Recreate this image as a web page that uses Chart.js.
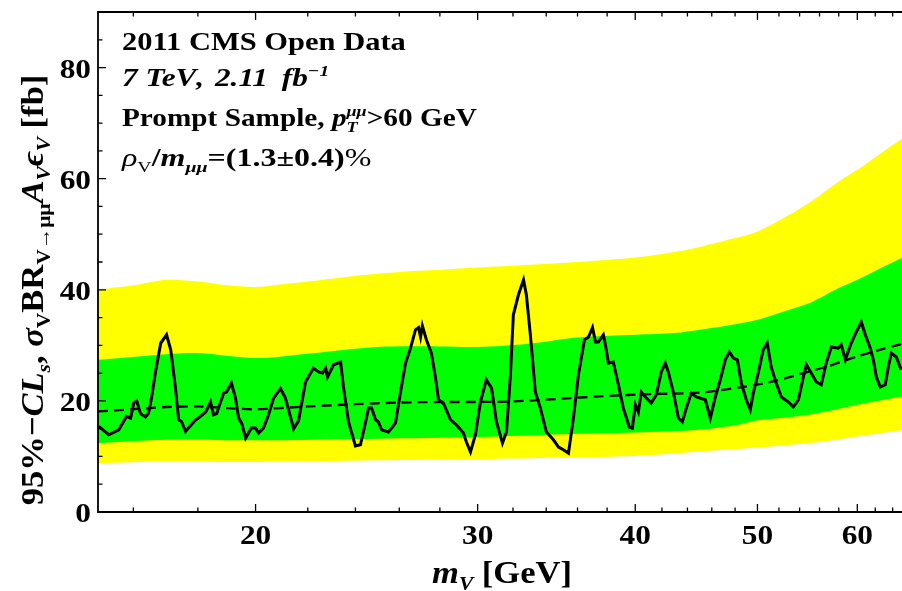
<!DOCTYPE html>
<html>
<head>
<meta charset="utf-8">
<script src="https://cdn.jsdelivr.net/npm/chart.js@4.4.1/dist/chart.umd.min.js"></script>
<style>
  html, body { margin:0; padding:0; background:#fff; }
  #wrap { width:902px; height:591px; }
</style>
</head>
<body>
<div id="wrap"><canvas id="chart"></canvas></div>
<script>
// ====== data ======
// observed 95% CLs limit
const obsMass = [15.02,15.30,15.58,15.80,15.92,16.01,16.10,16.21,16.36,16.45,16.54,16.66,16.82,17.00,17.13,17.28,17.38,17.47,17.60,17.93,
  18.02,18.26,18.42,18.52,18.63,18.69,18.87,18.97,19.14,19.28,19.39,19.50,19.64,19.85,20.00,20.11,20.29,20.48,20.67,20.93,
  21.12,21.44,21.63,21.91,22.23,22.44,22.60,22.73,22.81,23.06,23.36,23.48,23.70,24.00,24.22,24.45,24.58,24.72,24.90,25.03,
  25.17,25.49,25.82,26.06,26.30,26.54,26.78,26.93,27.03,27.12,27.32,27.57,27.78,27.93,28.18,28.55,28.86,29.23,29.39,29.61,
  29.88,30.15,30.48,30.77,31.05,31.39,31.62,31.85,32.02,32.32,32.62,32.79,33.03,33.33,33.64,34.01,34.45,34.77,35.08,35.41,
  35.73,36.06,36.46,36.73,37.00,37.20,37.40,37.74,37.88,38.09,38.43,38.79,39.14,39.57,39.79,40.01,40.23,40.45,40.75,41.19,
  41.57,41.95,42.26,42.49,42.88,43.28,43.59,43.91,44.31,44.72,45.46,45.88,46.30,46.72,47.15,47.50,47.85,48.20,48.55,48.99,
  49.35,49.62,50.07,50.53,50.90,51.27,51.74,52.23,52.90,53.38,53.88,54.37,54.67,55.16,55.67,56.18,56.69,57.22,57.95,58.27,
  58.70,59.34,59.89,60.44,60.88,61.44,61.78,62.12,62.57,63.14,63.49,63.84,64.43,65.0];
const obsLimit = [15.4,13.9,14.8,17.2,16.9,19.6,20.0,17.7,17.1,17.8,20.5,25.2,30.4,31.9,29.2,22.3,16.6,16.3,14.5,16.6,
  16.9,18.0,19.8,17.5,17.7,18.7,21.4,21.6,23.2,20.5,16.9,16.0,13.3,15.1,15.1,14.2,15.1,17.5,20.5,22.2,
  20.5,15.0,16.4,23.4,25.9,25.2,25.0,25.9,24.3,26.5,27.0,22.5,16.2,11.9,12.1,16.2,18.7,18.7,16.6,16.2,
  14.8,14.4,16.0,21.6,26.8,29.5,32.8,33.2,31.5,33.5,31.0,28.6,24.1,20.2,19.6,16.6,15.7,14.2,12.6,10.8,
  13.9,19.8,23.8,22.3,16.2,12.4,14.4,24.7,35.5,39.1,41.8,39.1,31.9,21.6,18.7,14.4,13.0,11.7,11.2,10.6,
  16.9,24.7,31.0,31.5,33.2,30.6,30.6,31.9,30.1,26.8,27.0,22.9,18.7,15.3,15.1,19.3,18.0,21.6,20.7,19.6,
  21.1,25.2,26.8,25.2,21.6,16.9,16.2,18.7,21.4,20.7,20.2,16.9,20.7,23.8,27.4,28.8,27.7,27.4,23.2,20.2,
  18.4,21.4,25.0,29.2,30.4,26.1,23.2,20.7,19.8,18.9,20.2,24.3,26.5,25.0,23.4,22.9,26.8,29.7,29.5,30.1,
  27.4,30.4,32.4,34.2,31.9,29.5,27.4,24.3,22.5,22.9,26.1,28.6,27.9,25.6];

// expected (median)
const expMass  = [15,16,17,18,19,20,22,24,26,28,30,32,35,38,41,45,48,51,54,57,60,63,65.2];
const expLimit = [18.1,18.5,18.9,19.0,18.7,18.5,19.0,19.4,19.7,19.8,19.8,19.9,20.4,20.9,21.2,21.5,22.3,23.3,24.8,26.3,28.0,29.4,30.3];

// ±2 sigma band (yellow)
const up2Mass = [15,16,17,18,19,20,21,22,24,26,28,30,33,36,40,43,45,48,50,53,55,58,60,63,65.2];
const up2     = [40.0,40.8,41.8,41.5,40.8,40.5,41.0,41.5,42.5,43.2,43.6,44.0,44.5,45.0,45.8,46.8,47.7,49.3,50.5,53.5,55.7,59.5,61.6,65.0,67.3];
const dn2Mass = [15,17,20,25,30,35,40,45,50,55,60,65.2];
const dn2     = [8.8,9.1,9.0,9.3,9.5,9.8,10.1,10.9,11.6,12.4,13.6,14.8];

// ±1 sigma band (green)
const up1Mass = [15,17,18,20,22,25,28,30,33,36,40,43,45,48,50,53,55,58,60,63,65.2];
const up1     = [27.4,28.4,28.6,27.7,28.5,29.7,29.8,29.7,30.3,31.4,31.9,32.2,32.8,33.8,34.6,36.4,37.6,40.3,41.8,44.2,45.8];
const dn1Mass = [15,17,20,25,30,35,40,45,48,50,54,57,60,63,65.2];
const dn1     = [12.4,13.0,12.9,13.2,13.5,14.0,14.3,14.8,15.6,16.5,17.3,18.2,19.3,20.2,20.8];

// ticks
const xMajor = [20,30,40,50,60];
const xMinor = [16,18,22,24,26,28,32,34,36,38,42,44,46,48,52,54,56,58,62,64];
const yMajor = [0,20,40,60,80];
const yMinor = [5,10,15,25,30,35,45,50,55,65,70,75,85];

const pts = (xs, ys) => xs.map((x,i) => ({x, y:ys[i]}));

// ====== text helper (sub/superscripts, stretched like the original) ======
const FONT = '"Liberation Serif","Times New Roman",serif';
function fontOf(s, size){
  const fs = size * (s.sc || 1);
  return `${s.i ? 'italic ' : ''}${s.n ? '' : 'bold '}${fs}px ${FONT}`;
}
function richWidth(ctx, segs, size, sx){
  let w = 0, keep = 0;
  for(const s of segs){
    ctx.font = fontOf(s, size);
    const sw = ctx.measureText(s.t).width * sx;
    if(s.keep){ keep = sw; continue; }
    w += Math.max(sw, keep) + (s.gap||0); keep = 0;
  }
  return w;
}
function drawRich(ctx, x, y, segs, size, sx){
  let cx = x, keep = 0;
  for(const s of segs){
    ctx.font = fontOf(s, size);
    ctx.save();
    ctx.translate(cx, y + (s.dy||0)*size);
    ctx.scale(sx, 1);
    ctx.fillText(s.t, 0, 0);
    ctx.restore();
    const sw = ctx.measureText(s.t).width * sx;
    if(s.keep){ keep = sw; continue; }
    cx += Math.max(sw, keep) + (s.gap||0); keep = 0;
  }
}
const SUB = {sc:0.62, dy:0.22};
const SUP = {sc:0.62, dy:-0.42};

const notes = [
  { y:50,  sx:1.22, segs:[{t:'2011 CMS Open Data'}] },
  { y:86,  sx:1.25, segs:[{t:'7 TeV', i:true}, {t:', ', i:true, gap:3}, {t:'2.11 ', i:true, gap:6}, {t:'fb', i:true}, {t:'−1', i:true, ...SUP}] },
  { y:126, sx:1.17, segs:[{t:'Prompt Sample, '}, {t:'p', i:true}, {t:'μμ', i:true, keep:true, ...SUP}, {t:'T', i:true, ...SUB}, {t:'>60 GeV'}] },
  { y:166, sx:1.28, segs:[{t:'ρ', i:true, n:true}, {t:'V', n:true, ...SUB}, {t:'/'}, {t:'m', i:true}, {t:'μμ', i:true, ...SUB}, {t:'=(1.3±0.4)', }, {t:'%', n:true}] }
];
const xTitle = [{t:'m', i:true}, {t:'V', i:true, ...SUB}, {t:' [GeV]'}];
const yTitle = [{t:'95%−'}, {t:'CL', i:true}, {t:'s', i:true, ...SUB}, {t:', '}, {t:'σ', i:true},
  {t:'V', ...SUB}, {t:'BR'}, {t:'V→μμ', ...SUB}, {t:'A', i:true}, {t:'V', i:true, ...SUB},
  {t:'ϵ', i:true}, {t:'V', i:true, ...SUB}, {t:' [fb]'}];

// ====== frame, ticks and labels ======
const framePlugin = {
  id:'frame',
  afterDatasetsDraw(chart){
    const {ctx, chartArea:a, scales:{x, y}} = chart;
    ctx.save();
    ctx.strokeStyle = '#000'; ctx.fillStyle = '#000';
    ctx.lineWidth = 1.8;
    ctx.beginPath();
    ctx.moveTo(a.right + 5, a.top); ctx.lineTo(a.left, a.top);
    ctx.lineTo(a.left, a.bottom); ctx.lineTo(a.right + 5, a.bottom);
    ctx.stroke();

    ctx.lineWidth = 1.3;
    ctx.beginPath();
    const xt = (v, len) => { const p = x.getPixelForValue(v);
      ctx.moveTo(p, a.bottom); ctx.lineTo(p, a.bottom - len);
      ctx.moveTo(p, a.top); ctx.lineTo(p, a.top + len); };
    const yt = (v, len) => { const p = y.getPixelForValue(v);
      ctx.moveTo(a.left, p); ctx.lineTo(a.left + len, p); };
    xMajor.forEach(v => xt(v, 8)); xMinor.forEach(v => xt(v, 4.5));
    yMajor.forEach(v => yt(v, 8)); yMinor.forEach(v => yt(v, 4.5));
    ctx.stroke();

    // tick labels
    ctx.textAlign = 'left'; ctx.textBaseline = 'alphabetic';
    const tick = [{t:''}];
    xMajor.forEach(v => { tick[0].t = String(v);
      const w = richWidth(ctx, tick, 28, 1.12);
      drawRich(ctx, x.getPixelForValue(v) - w/2, 544, tick, 28, 1.12); });
    yMajor.forEach(v => { tick[0].t = String(v);
      const w = richWidth(ctx, tick, 28, 1.12);
      drawRich(ctx, 91 - w, y.getPixelForValue(v) + 10, tick, 28, 1.12); });

    notes.forEach(n => drawRich(ctx, 122, n.y, n.segs, 25, n.sx));

    const xw = richWidth(ctx, xTitle, 32, 1.08);
    drawRich(ctx, 502 - xw/2, 583, xTitle, 32, 1.08);

    ctx.translate(43, 290);
    ctx.rotate(-Math.PI/2);
    const yw = richWidth(ctx, yTitle, 32, 1.08);
    drawRich(ctx, -yw/2, 0, yTitle, 32, 1.08);
    ctx.restore();
  }
};

const band = (data, color, fillTo, order) => ({
  data, borderWidth:0, pointRadius:0, backgroundColor:color, borderColor:color,
  fill: fillTo === null ? false : fillTo, order, tension:0.3
});

new Chart(document.getElementById('chart').getContext('2d'), {
  type:'line',
  data:{
    datasets:[
      { label:'observed', data:pts(obsMass, obsLimit), borderColor:'#000', borderWidth:3,
        pointRadius:0, fill:false, order:0, tension:0 },
      { label:'expected', data:pts(expMass, expLimit), borderColor:'#000', borderWidth:2.3,
        borderDash:[10,6], pointRadius:0, fill:false, order:1, tension:0.3 },
      band(pts(up1Mass, up1), '#00ff00', 3, 2),
      band(pts(dn1Mass, dn1), '#00ff00', null, 2),
      band(pts(up2Mass, up2), '#ffff00', 5, 3),
      band(pts(dn2Mass, dn2), '#ffff00', null, 3)
    ]
  },
  options:{
    responsive:true, maintainAspectRatio:false, animation:false,
    layout:{ padding:{ left:98, top:12, right:0, bottom:79 } },
    plugins:{ legend:{ display:false }, tooltip:{ enabled:false } },
    scales:{
      x:{ type:'logarithmic', min:15, max:65.1, display:false },
      y:{ type:'linear', min:0, max:90, display:false }
    }
  },
  plugins:[framePlugin]
});
</script>
</body>
</html>
